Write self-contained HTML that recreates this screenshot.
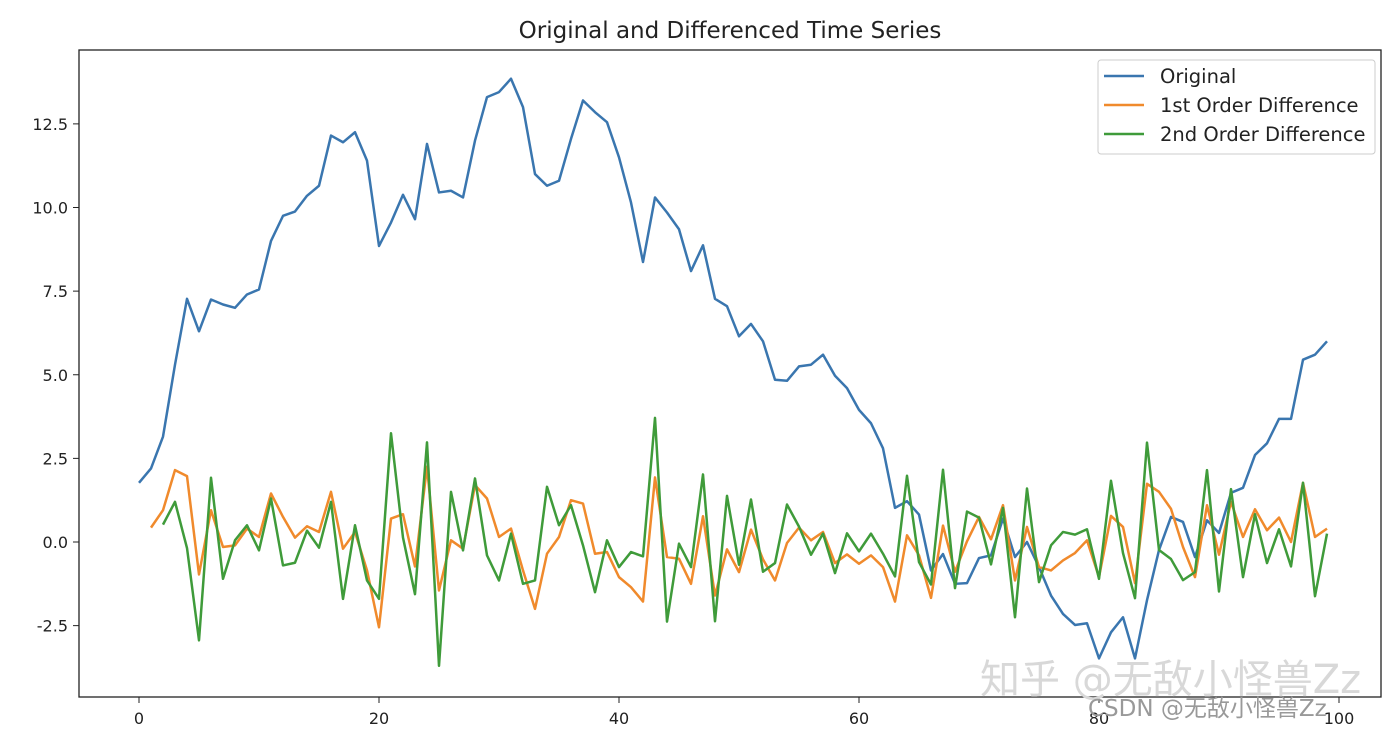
<!DOCTYPE html>
<html><head><meta charset="utf-8"><style>
body{margin:0;background:#fff;}
svg text{font-family:"DejaVu Sans","Liberation Sans",sans-serif;}
</style></head><body>
<svg id="chart" width="1396" height="742" xmlns="http://www.w3.org/2000/svg">
<rect width="1396" height="742" fill="#fff"/>
<text x="730" y="38" font-size="23" text-anchor="middle" fill="#222">Original and Differenced Time Series</text>
<g id="grid"></g>
<g id="series"></g>
<rect x="79" y="50" width="1302" height="647" fill="none" stroke="#222" stroke-width="1.3"/>
<g>
<rect x="1098" y="60" width="277" height="94" rx="3" fill="#fff" fill-opacity="0.85" stroke="#ccc"/>
<line x1="1104" y1="76" x2="1144" y2="76" stroke="#3a76af" stroke-width="2.5"/>
<text x="1160" y="83" font-size="19.5" fill="#222">Original</text>
<line x1="1104" y1="105" x2="1144" y2="105" stroke="#f08a2c" stroke-width="2.5"/>
<text x="1160" y="112" font-size="19.5" fill="#222">1st Order Difference</text>
<line x1="1104" y1="134" x2="1144" y2="134" stroke="#3f9b3a" stroke-width="2.5"/>
<text x="1160" y="141" font-size="19.5" fill="#222">2nd Order Difference</text>
</g>
<text x="980" y="693" font-size="40" fill="#d8d8d8" font-family="'Liberation Sans','Noto Sans CJK SC',sans-serif">知乎 @无敌小怪兽Zz</text>
<text x="1088" y="716" font-size="23" fill="#999" font-family="'Liberation Sans','Noto Sans CJK SC',sans-serif">CSDN @无敌小怪兽Zz</text>
</svg>
<script>
const original=[1.77,2.2,3.15,5.3,7.27,6.3,7.25,7.1,7.0,7.4,7.55,9.0,9.75,9.88,10.35,10.65,12.15,11.95,12.25,11.4,8.85,9.55,10.38,9.65,11.9,10.45,10.5,10.3,12.0,13.3,13.45,13.85,13.0,11.0,10.65,10.8,12.05,13.2,12.85,12.55,11.5,10.15,8.37,10.3,9.85,9.35,8.1,8.87,7.27,7.05,6.15,6.52,6.0,4.85,4.82,5.25,5.3,5.6,4.97,4.6,3.95,3.55,2.8,1.02,1.22,0.82,-0.85,-0.36,-1.25,-1.23,-0.48,-0.4,0.7,-0.45,0.0,-0.75,-1.6,-2.15,-2.48,-2.43,-3.48,-2.7,-2.25,-3.48,-1.74,-0.24,0.75,0.6,-0.45,0.65,0.27,1.47,1.62,2.6,2.95,3.68,3.68,5.45,5.6,6.0];
const xTicks=[0,20,40,60,80,100];
const yTicks=[-2.5,0.0,2.5,5.0,7.5,10.0,12.5];
const NS="http://www.w3.org/2000/svg";
const xs=v=>139+v*12;
const ys=v=>542-v*33.45;
const firstDiff=[];for(let i=1;i<original.length;i++)firstDiff.push([i,original[i]-original[i-1]]);
const secondDiff=[];for(let i=1;i<firstDiff.length;i++)secondDiff.push([firstDiff[i][0],firstDiff[i][1]-firstDiff[i-1][1]]);
const svg=document.getElementById('chart');
const g=document.getElementById('grid');
function mk(t,a,p){const e=document.createElementNS(NS,t);for(const k in a)e.setAttribute(k,a[k]);p.appendChild(e);return e;}
xTicks.forEach(v=>{
 const l=mk('line',{x1:xs(v),x2:xs(v),y1:697,y2:703,stroke:'#222'},g);
 
 
 const t=mk('text',{x:xs(v),y:724,'font-size':16,'text-anchor':'middle',fill:'#222'},g);t.textContent=v;
 
 
});
yTicks.forEach(v=>{
 const l=mk('line',{x1:73,x2:79,y1:ys(v),y2:ys(v),stroke:'#222'},g);
 
 
 const t=mk('text',{x:68,y:ys(v)+6,'font-size':16,'text-anchor':'end',fill:'#222'},g);t.textContent=v.toFixed(1);
 
 
});
const sg=document.getElementById('series');
function line(pts,color,name){
 const p=mk('polyline',{points:pts.map(d=>xs(d[0])+','+ys(d[1])).join(' '),fill:'none',stroke:color,'stroke-width':2.5,'stroke-linejoin':'round'},sg);
 
 
}
line(original.map((v,i)=>[i,v]),'#3a76af','original-line');
line(firstDiff,'#f08a2c','first-difference-line');
line(secondDiff,'#3f9b3a','second-difference-line');
</script>
</body></html>
